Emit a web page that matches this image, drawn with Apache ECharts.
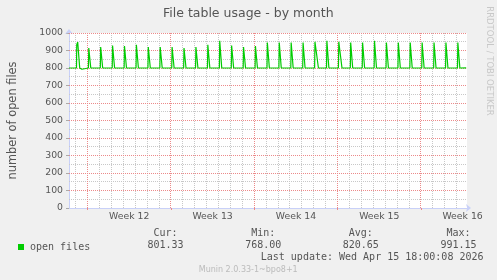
<!DOCTYPE html>
<html><head><meta charset="utf-8">
<script src="https://cdn.jsdelivr.net/npm/echarts@6/dist/echarts.min.js"></script>
<style>html,body{margin:0;padding:0;background:#F0F0F0;}#c{width:497px;height:280px;}</style>
</head><body><div id="c"></div>
<script>
// ---- data (x = days since Monday of Week 12, 00:00) ----
const titleText = 'File table usage - by month';
const yAxisName = 'number of open files';
const seriesName = 'open files';
const weekLabels = ['Week 12', 'Week 13', 'Week 14', 'Week 15', 'Week 16'];
const weekLabelDays = [3.5, 10.5, 17.5, 24.5, 31.5];
const weekStartDays = [0, 7, 14, 21, 28];
const dayGridDays = [-1, 1, 2, 3, 4, 5, 6, 8, 9, 10, 11, 12, 13, 15, 16, 17, 18, 19, 20, 22, 23, 24, 25, 26, 27, 29, 30, 31];
const yMajorValues = [100, 200, 300, 400, 500, 600, 700, 800, 900, 1000];
const yMinorValues = [50, 150, 250, 350, 450, 550, 650, 750, 850, 950];
const openFiles = [
  [-1.56, 800], [-0.93, 800], [-0.91, 933], [-0.83, 948], [-0.66, 800], [-0.55, 800], [-0.48, 793], [-0.42, 800],
  [0.07, 800], [0.1, 914], [0.27, 800],
  [1.07, 800], [1.1, 920], [1.27, 800],
  [2.07, 800], [2.1, 928], [2.27, 800], [2.76, 800], [2.81, 805], [2.86, 800],
  [3.07, 800], [3.1, 926], [3.27, 800],
  [4.07, 800], [4.1, 933], [4.27, 800],
  [5.07, 800], [5.1, 920], [5.27, 800],
  [6.07, 800], [6.1, 920], [6.27, 800],
  [7.07, 800], [7.1, 920], [7.27, 800],
  [8.07, 800], [8.1, 914], [8.27, 800], [8.32, 792], [8.4, 800],
  [9.07, 800], [9.1, 920], [9.27, 800],
  [10.07, 800], [10.1, 933], [10.27, 800],
  [11.07, 800], [11.1, 955], [11.27, 800], [11.74, 800], [11.79, 805], [11.84, 800],
  [12.07, 800], [12.1, 928], [12.27, 800],
  [13.07, 800], [13.1, 920], [13.27, 800], [13.77, 800], [13.82, 805], [13.87, 800],
  [14.07, 800], [14.1, 925], [14.27, 800], [14.52, 800], [14.57, 794], [14.62, 800],
  [15.07, 800], [15.1, 946], [15.27, 800],
  [16.07, 800], [16.1, 946], [16.27, 800],
  [17.07, 800], [17.1, 946], [17.27, 800], [17.3, 800], [17.35, 804], [17.4, 800],
  [18.07, 800], [18.1, 946], [18.27, 800], [18.34, 800], [18.39, 794], [18.44, 800],
  [19.07, 800], [19.1, 950], [19.22, 950], [19.39, 800],
  [20.07, 800], [20.1, 955], [20.27, 800],
  [21.07, 800], [21.1, 950], [21.2, 950], [21.37, 800],
  [22.07, 800], [22.1, 946], [22.27, 800],
  [23.07, 800], [23.1, 946], [23.27, 800],
  [24.07, 800], [24.1, 955], [24.27, 800], [24.72, 800], [24.77, 804], [24.82, 800],
  [25.07, 800], [25.1, 946], [25.27, 800],
  [26.07, 800], [26.1, 946], [26.27, 800],
  [27.07, 800], [27.1, 946], [27.27, 800], [27.62, 800], [27.67, 804], [27.72, 800],
  [28.07, 800], [28.1, 946], [28.27, 800],
  [29.07, 800], [29.1, 946], [29.27, 800],
  [30.07, 800], [30.1, 946], [30.27, 800],
  [31.07, 800], [31.1, 946], [31.27, 800], [31.8, 801]
];
const statLabels = ['Cur:', 'Min:', 'Avg:', 'Max:'];
const statValues = ['801.33', '768.00', '820.65', '991.15'];
const lastUpdate = 'Last update: Wed Apr 15 18:00:08 2026';
const credit = 'Munin 2.0.33-1~bpo8+1';
const watermark = 'RRDTOOL / TOBI OETIKER';

// ---- styling ----
const SANS = 'DejaVu Sans';
const MONO = 'DejaVu Sans Mono';
const TXT = '#555555';
const AXIS = '#C8D0F8';
const MAJOR = '#EC8A8A';
const MINOR = '#C8C8C8';
const GREEN = '#00CC00';
const statX = [165.5, 263.2, 360.8, 458.5];

// grid-line rows: [x, y, orientation (0 vertical / 1 horizontal), major flag]
const gridRows = []
  .concat(dayGridDays.map(d => [d, 0, 0, 0]))
  .concat(yMinorValues.map(v => [0, v, 1, 0]))
  .concat(weekStartDays.map(d => [d, 0, 0, 1]))
  .concat(yMajorValues.map(v => [0, v, 1, 1]));

const chart = echarts.init(document.getElementById('c'), null, {renderer: 'canvas'});

const graphics = [
  {type: 'text', x: 248.3, y: 13.5, style: {text: titleText, font: '12.5px "' + SANS + '"', fill: TXT, textAlign: 'center', textVerticalAlign: 'middle'}},
  {type: 'text', x: 489.5, y: 61, rotation: -Math.PI / 2, style: {text: watermark, font: '8.5px "' + SANS + '"', fill: '#C8C8C8', textAlign: 'center', textVerticalAlign: 'middle'}},
  {type: 'text', x: 483.5, y: 257.8, style: {text: lastUpdate, font: '10px "' + MONO + '"', fill: TXT, textAlign: 'right', textVerticalAlign: 'middle'}},
  {type: 'text', x: 248.2, y: 269.5, style: {text: credit, font: '8px "' + SANS + '"', fill: '#BBBBBB', textAlign: 'center', textVerticalAlign: 'middle'}}
];
statLabels.forEach((s, i) => {
  graphics.push({type: 'text', x: statX[i], y: 233.3, style: {text: s, font: '10px "' + MONO + '"', fill: TXT, textAlign: 'center', textVerticalAlign: 'middle'}});
  graphics.push({type: 'text', x: statX[i], y: 245.7, style: {text: statValues[i], font: '10px "' + MONO + '"', fill: TXT, textAlign: 'center', textVerticalAlign: 'middle'}});
});

function renderGridLine(params, api) {
  const row = gridRows[params.dataIndex];
  const cs = params.coordSys;
  const color = row[3] === 1 ? MAJOR : MINOR;
  let shape;
  if (row[2] === 0) {
    const x = Math.floor(api.coord([row[0], 0])[0]) + 0.5;
    shape = {x1: x, y1: cs.y, x2: x, y2: cs.y + cs.height};
  } else {
    const y = Math.floor(api.coord([0, row[1]])[1]) + 0.5;
    shape = {x1: cs.x, y1: y, x2: cs.x + cs.width, y2: y};
  }
  return {type: 'line', shape: shape, silent: true, style: {stroke: color, fill: null, lineWidth: 1, lineDash: [1, 1]}};
}

chart.setOption({
  backgroundColor: '#F0F0F0',
  animation: false,
  grid: {left: 67, right: 30, top: 33, bottom: 72, show: true, backgroundColor: '#FFFFFF', borderWidth: 0},
  legend: {
    left: 13, top: 237, icon: 'rect', itemWidth: 6, itemHeight: 6, itemGap: 10,
    data: [seriesName],
    textStyle: {fontFamily: MONO, fontSize: 10, color: TXT, padding: [0, 0, 0, 1]}
  },
  xAxis: {
    type: 'value', min: -1.56, max: 31.87,
    axisLine: {show: true, onZero: false, lineStyle: {color: AXIS, width: 1}, symbol: ['none', 'arrow'], symbolSize: [6, 5], symbolOffset: [0, 4]},
    axisTick: {show: true, customValues: weekStartDays, length: 2, lineStyle: {color: MAJOR}},
    axisLabel: {
      customValues: weekLabelDays, margin: 4, fontFamily: SANS, fontSize: 9.3, color: TXT,
      formatter: v => {
        let best = 0;
        weekLabelDays.forEach((d, i) => { if (Math.abs(d - v) < Math.abs(weekLabelDays[best] - v)) best = i; });
        return weekLabels[best];
      }
    },
    splitLine: {show: false}
  },
  yAxis: {
    type: 'value', min: 0, max: 1000, interval: 100,
    name: yAxisName, nameLocation: 'middle', nameGap: 50,
    nameTextStyle: {fontFamily: SANS, fontSize: 11.4, color: TXT},
    axisLine: {show: true, onZero: false, lineStyle: {color: AXIS, width: 1}, symbol: ['none', 'arrow'], symbolSize: [6, 5], symbolOffset: [0, 4]},
    axisTick: {show: true, length: 3, lineStyle: {color: '#AAAAAA'}},
    axisLabel: {fontFamily: SANS, fontSize: 9.3, color: TXT, margin: 6, formatter: v => String(v)},
    splitLine: {show: false},
    minorTick: {show: false},
    minorSplitLine: {show: false}
  },
  graphic: graphics,
  series: [
    {
      type: 'custom', name: '_grid', data: gridRows, silent: true, z: 1,
      renderItem: renderGridLine, encode: {x: 0, y: 1}
    },
    {
      type: 'line', name: seriesName, data: openFiles, showSymbol: false, z: 3,
      lineStyle: {color: GREEN, width: 1.2}, itemStyle: {color: GREEN}
    }
  ]
});
</script>
</body></html>
